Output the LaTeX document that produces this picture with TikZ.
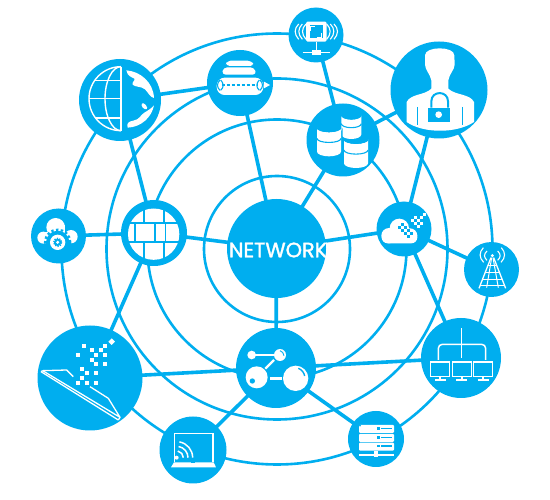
\documentclass[tikz,border=0pt]{standalone}
\usepackage{fontspec}
\setmainfont{Poppins}
\newfontfamily\labelfont[FakeBold=1.6]{Poppins}
\definecolor{netblue}{HTML}{00AEEF}
\tikzset{
  ringc/.style={circle,draw=netblue,line width=2.6pt,inner sep=0pt,outer sep=0pt},
  hub/.style={circle,fill=netblue,inner sep=0pt,outer sep=0pt},
  link/.style={draw=netblue,line width=3.6pt,shorten <=-1pt,shorten >=-1pt},
  zoomed/.style={x=0.33333pt,y=-0.33333pt},
  ln/.style={draw=white,line width=#1},
  ln/.default=1.2pt,
  bl/.style={draw=netblue,line width=#1},
  bl/.default=1.2pt
}
\newcommand{\sq}[3]{\fill[#1] (#2-6,#3-6) rectangle (#2+6,#3+6);}
\begin{document}
\begin{tikzpicture}[x=1pt,y=-1pt]
\useasboundingbox (0,0) rectangle (550,500);
\fill[white] (0,0) rectangle (550,500);
% rings
\node[ringc,minimum size=146pt] (r1) at (277,249) {};
\node[ringc,minimum size=259pt] (r2) at (277,249) {};
\node[ringc,minimum size=341pt] (r3) at (277,249) {};
\node[ringc,minimum size=431pt] (r4) at (277,249) {};
% hubs
\node[hub,minimum size=99pt] (net) at (276.5,248.5) {};
\node[hub,minimum size=82pt] (globe) at (120,100) {};
\node[hub,minimum size=66pt] (tun) at (240,83) {};
\node[hub,minimum size=55pt] (wifi) at (316,35) {};
\node[hub,minimum size=97pt] (user) at (439,90) {};
\node[hub,minimum size=73pt] (db) at (343,140) {};
\node[hub,minimum size=55pt] (gear) at (58.5,236) {};
\node[hub,minimum size=66pt] (fw) at (154,233) {};
\node[hub,minimum size=55pt] (pix) at (404,229) {};
\node[hub,minimum size=55pt] (tower) at (491.5,269.5) {};
\node[hub,minimum size=105pt] (tablet) at (90,378) {};
\node[hub,minimum size=67pt] (laptop) at (193,450) {};
\node[hub,minimum size=80pt] (mol) at (276,368) {};
\node[hub,minimum size=80pt] (hier) at (461,358) {};
\node[hub,minimum size=56pt] (srv) at (376,439) {};
% connectors
\draw[link] (net) -- (fw);
\draw[link] (net) -- (tun);
\draw[link] (net) -- (db);
\draw[link] (net) -- (pix);
\draw[link] (net) -- (mol);
\draw[link] (fw) -- (gear);
\draw[link] (fw) -- (globe);
\draw[link] (fw) -- (tablet);
\draw[link] (tun) -- (globe);
\draw[link] (db) -- (wifi);
\draw[link] (db) -- (user);
\draw[link] (pix) -- (user);
\draw[link] (pix) -- (tower);
\draw[link] (pix) -- (hier);
\draw[link] (mol) -- (tablet);
\draw[link] (mol) -- (hier);
\draw[link] (mol) -- (laptop);
\draw[link] (mol) -- (srv);
% centre label
\node[text=white,inner sep=0pt] (netlabel) at (278,250) {\labelfont\fontsize{20.8}{22}\selectfont NETWORK};
% globe
\begin{scope}[shift={(85,62)},zoomed]
  \draw[ln=1.4pt] (108,14) arc[start angle=270,end angle=90,radius=96];
  \draw[ln=1.4pt] (108,14) arc[start angle=270,end angle=90,x radius=48,y radius=96];
  \draw[ln=1.4pt] (108,14) -- (108,206);
  \draw[ln=1.4pt] (30,55) -- (108,55);
  \draw[ln=1.4pt] (12,110) -- (108,110);
  \draw[ln=1.4pt] (30,168) -- (108,168);
  \fill[white] (124,25) .. controls (165,28) and (205,60) .. (207,108)
     .. controls (195,106) and (190,92) .. (180,82)
     .. controls (168,72) and (150,76) .. (143,68)
     .. controls (140,60) and (152,55) .. (148,50)
     .. controls (140,44) and (128,45) .. (124,25) -- cycle;
  \fill[white] (207,130) .. controls (200,165) and (170,195) .. (128,197)
     .. controls (124,185) and (130,178) .. (145,176)
     .. controls (165,172) and (165,160) .. (178,152)
     .. controls (190,145) and (198,140) .. (207,130) -- cycle;
  \fill[white,rotate around={-50:(178,133)}] (178,133) ellipse [x radius=11,y radius=6];
\end{scope}
% tunnel
\begin{scope}[shift={(70,0)},zoomed]
  \fill[white,rounded corners=4pt] (467,198) -- (470,182) -- (545,182) -- (553,198) -- cycle;
  \fill[white,rounded corners=4pt] (455,224) -- (460,202) -- (553,202) -- (560,224) -- cycle;
  \fill[white,rounded corners=8pt] (440,233) rectangle (580,285);
  \draw[bl=1.1pt,dash pattern=on 3pt off 2pt] (455,255) -- (565,255);
  \draw[bl=1.1pt] (450,240) .. controls (440,250) and (440,262) .. (450,271);
  \draw[bl=1.1pt] (452,240) .. controls (462,250) and (462,262) .. (452,271);
  \draw[bl=1.1pt] (568,240) .. controls (558,250) and (558,262) .. (568,271);
  \draw[bl=1.1pt] (570,240) .. controls (580,250) and (580,262) .. (570,271);
  \fill[white] (582,245) -- (600,255) -- (582,265) -- cycle;
\end{scope}
% wifi, database
\begin{scope}[shift={(280,0)},zoomed]
  \fill[white,rounded corners=1.5pt] (78,65) rectangle (140,125);
  \fill[netblue] (90,76) rectangle (128,114);
  \draw[ln=0.9pt] (92,92) -- (92,79) -- (105,79);
  \draw[ln=0.9pt] (125,100) -- (125,112) -- (112,112);
  \draw[ln=1.6pt] (109,125) -- (109,158);
  \draw[ln=1.6pt] (68,158) -- (150,158);
  \fill[white] (96,150) rectangle (122,166);
  \foreach \r in {38,49,60}{
    \draw[ln=1.1pt] (109-\r+7,72) .. controls (109-\r-7,86) and (109-\r-7,102) .. (109-\r+7,118);
    \draw[ln=1.1pt] (109+\r-7,72) .. controls (109+\r+7,86) and (109+\r+7,102) .. (109+\r-7,118);
  }
  % database
  \foreach \cx/\ty/\w/\h in {214/345/30/58,147/383/36/72,228/418/36/72}{
    \fill[netblue] (\cx-\w-5,\ty) -- (\cx-\w-5,\ty+\h) arc[start angle=180,end angle=0,x radius=\w+5,y radius=18] -- (\cx+\w+5,\ty) arc[start angle=0,end angle=180,x radius=\w+5,y radius=22];
    \fill[white] (\cx-\w,\ty) -- (\cx-\w,\ty+\h) arc[start angle=180,end angle=0,x radius=\w,y radius=14] -- (\cx+\w,\ty) arc[start angle=0,end angle=180,x radius=\w,y radius=14];
    \draw[bl=1.1pt] (\cx-\w,\ty) arc[start angle=180,end angle=0,x radius=\w,y radius=12];
    \draw[bl=1.1pt] (\cx-\w,\ty+0.45*\h) arc[start angle=180,end angle=0,x radius=\w,y radius=12];
  }
\end{scope}
% user
\begin{scope}[shift={(400,42)},zoomed]
  \fill[white] (75,40) .. controls (75,12) and (163,12) .. (163,40)
    -- (164,68) .. controls (163,85) and (148,95) .. (145,115)
    -- (145,140) .. controls (165,160) and (210,155) .. (222,180)
    -- (222,240) .. controls (170,275) and (70,275) .. (20,240)
    -- (20,180) .. controls (32,155) and (75,160) .. (94,140)
    -- (94,115) .. controls (90,95) and (76,85) .. (75,68) -- cycle;
  \draw[bl=1.3pt] (53,195) -- (53,250);
  \draw[bl=1.3pt] (187,195) -- (187,250);
  \draw[bl=2pt] (94,197) -- (94,178) .. controls (94,145) and (144,145) .. (144,178) -- (144,197);
  \fill[netblue] (83,197) rectangle (150,240);
  \fill[white] (116,218) circle[radius=10];
\end{scope}
% gear cloud
\begin{scope}[shift={(35,210)},zoomed]
  \fill[white] (25,83) circle[radius=18];
  \fill[white] (62,52) circle[radius=28];
  \fill[white] (108,80) circle[radius=20];
  \fill[white] (40,45) rectangle (90,80);
  \fill[white] (25,65) rectangle (108,100);
  \fill[netblue] (68,97) circle[radius=35];
  \draw[netblue,line width=2.2pt,dash pattern=on 2.4pt off 2.4pt] (68,97) circle[radius=38];
  \fill[white] (68,97) circle[radius=23];
  \draw[netblue,line width=1.3pt,dash pattern=on 1.3pt off 1.2pt] (68,97) circle[radius=12];
  \fill[netblue] (68,97) circle[radius=11];
  \fill[white] (68,97) circle[radius=5];
\end{scope}
% firewall
\begin{scope}[shift={(20,190)},zoomed]
  \fill[white] (401,132.5) circle[radius=77];
  \fill[netblue] (323,97) rectangle (480,101);
  \fill[netblue] (323,154) rectangle (480,158);
  \fill[netblue] (370,50) rectangle (374,98);
  \fill[netblue] (430,50) rectangle (434,98);
  \fill[netblue] (343,100) rectangle (347,155);
  \fill[netblue] (403,100) rectangle (407,155);
  \fill[netblue] (435,100) rectangle (439,155);
  \fill[netblue] (370,157) rectangle (374,215);
  \fill[netblue] (430,157) rectangle (434,215);
\end{scope}
% pixel cloud
\begin{scope}[shift={(360,190)},zoomed]
  \fill[white] (87,137) circle[radius=23];
  \fill[white] (118,115) circle[radius=29];
  \fill[white] (150,137) circle[radius=22];
  \fill[white,rounded corners=6pt] (65,125) rectangle (172,160);
  \foreach \a/\b in {118/113,127/122,136/113,136/131,145/122,145/140,154/131,127/104}{
    \fill[netblue] (\a-4.5,\b-4.5) rectangle (\a+4.5,\b+4.5);
  }
  \foreach \a/\b in {156/93,165/102,174/111,174/93,183/84,192/75,183/102,165/84}{
    \fill[white] (\a-4.5,\b-4.5) rectangle (\a+4.5,\b+4.5);
  }
\end{scope}
% tower
\begin{scope}[shift={(470,245)},zoomed]
  \fill[white] (67,32) circle[radius=5];
  \draw[ln=1.3pt] (63,38) -- (27,130);
  \draw[ln=1.3pt] (71,38) -- (107,130);
  \draw[ln=1pt] (65,38) -- (50,128);
  \draw[ln=1pt] (69,38) -- (85,128);
  \draw[ln=1pt] (55,62) -- (79,62);
  \draw[ln=1pt] (47,82) -- (87,82);
  \draw[ln=1pt] (39,104) -- (95,104);
  \draw[ln=1.3pt] (31,122) -- (103,122);
  \foreach \s in {1,-1}{
    \draw[ln=1.1pt] (67+\s*16,18) .. controls (67+\s*26,28) and (67+\s*26,36) .. (67+\s*16,46);
    \draw[ln=1.1pt] (67+\s*27,8) .. controls (67+\s*40,22) and (67+\s*40,38) .. (67+\s*26,52);
  }
\end{scope}
% tablet, laptop
\begin{scope}[shift={(30,320)},zoomed]
  \foreach \a/\b in {163/77,225/77,185/91,212/91,198/105,143/105,225/105,185/119,198/132,225/132,156/146,170/160,198/160,156/174,143/188,170/188,198/188}{
    \sq{white}{\a}{\b}
  }
  \fill[white,rotate around={45:(245,65)}] (238,58) rectangle (252,72);
  \draw[ln=1.3pt,line join=round] (33,155) -- (265,300);
  \draw[ln=1.3pt,line join=round] (38,152) -- (110,150) -- (130,170);
  \draw[ln=1.3pt,line join=round] (38,152) -- (270,292) -- (235,235) -- (180,200);
  \draw[ln=1.3pt] (33,155) -- (38,152);
  \draw[ln=1.3pt] (265,300) -- (270,292);
  % laptop
  \draw[ln=1.2pt] (434,425) -- (434,340) -- (549,340) -- (549,425);
  \fill[white] (432,427) -- (551,427) -- (558,442) -- (423,442) -- cycle;
  \fill[netblue] (484,424) rectangle (496,429);
  \fill[white] (440,413) circle[radius=6];
  \foreach \r in {20,34,48}{
    \draw[ln=1.5pt] (440+\r,413) arc[start angle=0,end angle=-80,radius=\r];
  }
\end{scope}
% molecule
\begin{scope}[shift={(230,320)},zoomed]
  \fill[white] (65,105) circle[radius=13];
  \fill[white] (150,105) circle[radius=18];
  \fill[white] (80,172) circle[radius=33];
  \fill[white] (197,175) circle[radius=38];
  \draw[ln=1.7pt] (75,105) -- (135,105);
  \draw[ln=2.2pt] (132,120) -- (106,146);
  \draw[ln=2.4pt] (120,175) -- (156,175);
  \fill[netblue] (67,183) circle[radius=8];
  \draw[bl=1.4pt] (205,145) .. controls (215,148) and (222,158) .. (224,168);
  \draw[bl=0.9pt] (150,92) .. controls (157,94) and (161,100) .. (162,107);
\end{scope}
% hierarchy, server
\begin{scope}[shift={(340,310)},zoomed]
  \draw[ln=1.5pt] (365,55) -- (365,145);
  \draw[ln=1.5pt,rounded corners=4pt] (295,150) -- (295,103) -- (437,103) -- (437,150);
  \foreach \a in {272,337,401}{
    \draw[ln=1.1pt] (\a,156) rectangle (\a+57,199);
    \fill[white] (\a+25,199) rectangle (\a+32,207);
    \fill[white] (\a+12,207) rectangle (\a+45,212);
  }
  % server
  \foreach \y in {345,372,398}{
    \fill[white,rounded corners=1pt] (57,\y) rectangle (162,\y+24);
    \fill[netblue] (110,\y+7) rectangle (120,\y+14);
    \fill[netblue] (123,\y+8) rectangle (157,\y+13);
  }
  \fill[netblue] (60,347) circle[radius=3];
  \fill[white] (57,432) rectangle (162,438);
  \fill[white] (102,424) rectangle (115,442);
\end{scope}
\end{tikzpicture}
\end{document}
